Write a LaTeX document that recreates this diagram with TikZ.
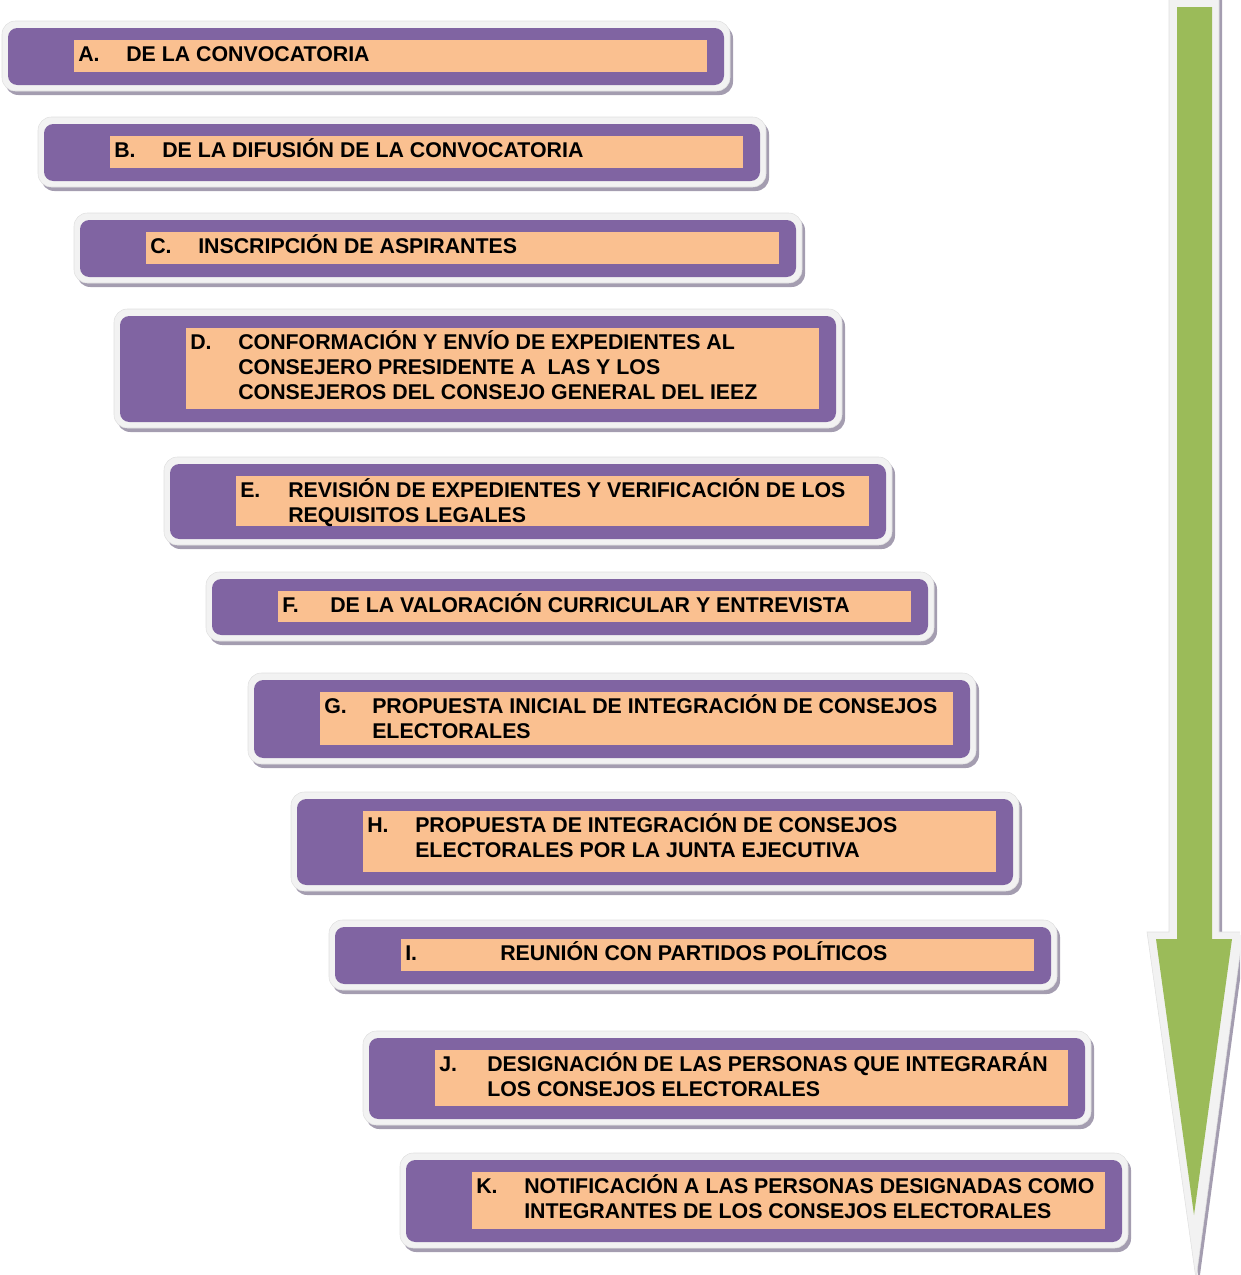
\documentclass[tikz,border=0pt]{standalone}
\usepackage{fontspec}
\setmainfont{Liberation Sans}
\definecolor{morado}{HTML}{8064A2}
\definecolor{durazno}{HTML}{FAC090}
\definecolor{verde}{HTML}{9BBB59}
\definecolor{marcogris}{HTML}{F2F2F2}
\definecolor{sombragris}{HTML}{A49DB0}
\tikzset{
  sombra/.style={fill=sombragris, rounded corners=10pt},
  marco/.style={fill=marcogris, draw=black!12, line width=0.4pt, rounded corners=10pt},
  caja/.style={fill=morado, rounded corners=7pt},
  fondo/.style={fill=durazno},
  letra/.style={anchor=base west, inner sep=0pt, font=\bfseries\fontsize{16}{18.75}\selectfont},
  paso/.style={letra}
}
% [#1] text shift, #2 name, #3 left, #4 top, #5 bottom, #6 letter, #7 text
\newcommand{\etapa}[7][118]{%
  \fill[sombra] (#3-3,#4-3) rectangle (#3+725,#5+10);
  \filldraw[marco] (#3-6,#4-7) rectangle (#3+722,#5+6);
  \fill[caja] (#3,#4) rectangle (#3+716,#5);
  \fill[fondo] (#3+66,#4+12) rectangle (#3+699,#5-13);
  \node[letra] (#2-letra) at (#3+70,#4+33) {#6};
  \node[paso] (#2) at (#3+#1,#4+33)
    {\begin{tabular}[t]{@{}l@{}}#7\end{tabular}};
}

\begin{document}
\begin{tikzpicture}[x=0.75pt,y=-0.75pt]
  \clip (0,0) rectangle (1240,1275);
  % arrow on the right
  \fill[sombragris] (1172,-5) -- (1222,-5) -- (1222,935) -- (1246,935)
        -- (1199,1282) -- (1150,935) -- (1172,935) -- cycle;
  \filldraw[fill=marcogris, draw=black!12] (1169,-5) -- (1219,-5) -- (1219,932) -- (1243,932)
        -- (1196,1279) -- (1147,932) -- (1169,932) -- cycle;
  \fill[verde] (1177,7) -- (1212,7) -- (1212,939) -- (1232,939)
        -- (1194,1215) -- (1156,939) -- (1177,939) -- cycle;
  % the steps
  \etapa{pa}{8}{28}{85}{A.}{DE LA CONVOCATORIA}
  \etapa{pb}{44}{124}{181}{B.}{DE LA DIFUSIÓN DE LA CONVOCATORIA}
  \etapa{pc}{80}{220}{277}{C.}{INSCRIPCIÓN DE ASPIRANTES}
  \etapa{pd}{120}{316}{422}{D.}{CONFORMACIÓN Y ENVÍO DE EXPEDIENTES AL\\
    CONSEJERO PRESIDENTE A~~LAS Y LOS\\CONSEJEROS DEL CONSEJO GENERAL DEL IEEZ}
  \etapa{pe}{170}{464}{539}{E.}{REVISIÓN DE EXPEDIENTES Y VERIFICACIÓN DE LOS\\
    REQUISITOS LEGALES}
  \etapa{pf}{212}{579}{635}{F.}{DE LA VALORACIÓN CURRICULAR Y ENTREVISTA}
  \etapa{pg}{254}{680}{758}{G.}{PROPUESTA INICIAL DE INTEGRACIÓN DE CONSEJOS\\
    ELECTORALES}
  \etapa{ph}{297}{799}{885}{H.}{PROPUESTA DE INTEGRACIÓN DE CONSEJOS\\
    ELECTORALES POR LA JUNTA EJECUTIVA}
  \etapa[165]{pi}{335}{927}{984}{I.}{REUNIÓN CON PARTIDOS POLÍTICOS}
  \etapa{pj}{369}{1038}{1119}{J.}{DESIGNACIÓN DE LAS PERSONAS QUE INTEGRARÁN\\
    LOS CONSEJOS ELECTORALES}
  \etapa{pk}{406}{1160}{1242}{K.}{NOTIFICACIÓN A LAS PERSONAS DESIGNADAS COMO\\
    INTEGRANTES DE LOS CONSEJOS ELECTORALES}
\end{tikzpicture}
\end{document}
